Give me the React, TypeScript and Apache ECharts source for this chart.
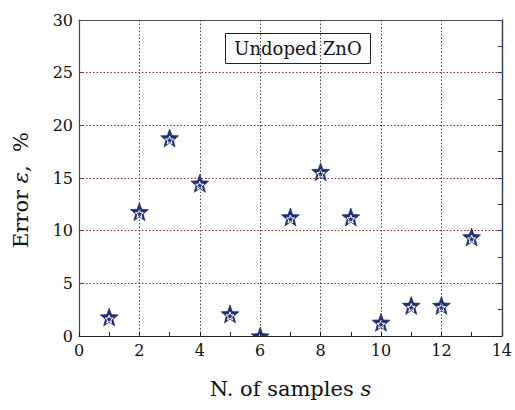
import React, { useEffect, useRef } from "react";
import * as echarts from "echarts";

const samples = [1, 2, 3, 4, 5, 6, 7, 8, 9, 10, 11, 12, 13];
const errors = [1.8, 11.8, 18.8, 14.5, 2.1, 0.0, 11.3, 15.6, 11.3, 1.3, 2.9, 2.9, 9.4];
const xTicks = [0, 2, 4, 6, 8, 10, 12, 14];
const yTicks = [0, 5, 10, 15, 20, 25, 30];
const legendLabel = "Undoped ZnO";

function starPath(outer: number, inner: number): string {
  const pts: string[] = [];
  for (let i = 0; i < 10; i++) {
    const r = i % 2 === 0 ? outer : inner;
    const a = -Math.PI / 2 + (i * Math.PI) / 5;
    pts.push(`${(r * Math.cos(a)).toFixed(3)} ${(r * Math.sin(a)).toFixed(3)}`);
  }
  return "path://M" + pts.join(" L") + " Z";
}

export default function App() {
  const ref = useRef<HTMLDivElement>(null);
  useEffect(() => {
    if (!ref.current) return;
    const chart = echarts.init(ref.current, null, { renderer: "svg" });
    const font = "DejaVu Serif";
    const data = samples.map((s, i) => [s, errors[i]]);
    const star = starPath(10, 4.2);
    const gridLeft = 79;
    const gridRight = 12;
    const gridTop = 20;
    const gridBottom = 74;
    chart.setOption({
      animation: false,
      backgroundColor: "#ffffff",
      textStyle: { fontFamily: font },
      grid: { left: gridLeft, right: gridRight, top: gridTop, bottom: gridBottom, containLabel: false },
      xAxis: [
        {
          type: "value",
          position: "bottom",
          z: 10,
          min: xTicks[0],
          max: xTicks[xTicks.length - 1],
          interval: 2,
          name: "{n|N. of samples }{i|s}",
          nameLocation: "middle",
          nameGap: 42,
          nameTextStyle: {
            rich: {
              n: { fontFamily: font, fontSize: 21, color: "#111" },
              i: { fontFamily: font, fontSize: 21, fontStyle: "italic", color: "#111" },
            },
          },
          axisLine: { show: true, onZero: false, lineStyle: { color: "#222", width: 1.2 } },
          axisTick: { show: true, inside: true, length: 4, lineStyle: { color: "#222" } },
          minorTick: { show: true, splitNumber: 2, length: 4, lineStyle: { color: "#222" } },
          axisLabel: { fontFamily: font, fontSize: 16, color: "#111", margin: 6 },
          splitLine: { show: true, lineStyle: { type: [1.5, 2], color: "#444", width: 1 } },
        },
        {
          type: "value",
          position: "top",
          min: xTicks[0],
          max: xTicks[xTicks.length - 1],
          interval: 2,
          axisLine: { show: true, onZero: false, lineStyle: { color: "#555", width: 1.2 } },
          axisTick: { show: false },
          axisLabel: { show: false },
          splitLine: { show: false },
        },
      ],
      yAxis: [
        {
          type: "value",
          position: "left",
          min: yTicks[0],
          max: yTicks[yTicks.length - 1],
          interval: 5,
          name: "{n|Error }{i|ε}{n|,  %}",
          nameLocation: "middle",
          nameGap: 48,
          nameRotate: 90,
          nameTextStyle: {
            padding: [0, 24, 0, 0],
            rich: {
              n: { fontFamily: font, fontSize: 21, color: "#111" },
              i: { fontFamily: font, fontSize: 21, fontStyle: "italic", color: "#111" },
            },
          },
          axisLine: { show: true, onZero: false, lineStyle: { color: "#444", width: 1.2 } },
          axisTick: { show: true, inside: true, length: 4, lineStyle: { color: "#444" } },
          axisLabel: { fontFamily: font, fontSize: 16, color: "#111", margin: 6 },
          splitLine: { show: true, lineStyle: { type: [1.5, 2], color: "#8b2a2a", width: 1 } },
        },
        {
          type: "value",
          position: "right",
          min: yTicks[0],
          max: yTicks[yTicks.length - 1],
          interval: 2.5,
          axisLine: { show: true, onZero: false, lineStyle: { color: "#1f2d6e", width: 1.4 } },
          axisTick: { show: true, inside: true, length: 4, lineStyle: { color: "#1f2d6e" } },
          axisLabel: { show: false },
          splitLine: { show: false },
        },
      ],
      graphic: [
        {
          type: "rect",
          left: gridLeft + 1,
          bottom: gridBottom - 12,
          z: 8,
          silent: true,
          shape: { width: 515 - gridLeft - gridRight - 2, height: 11.4 },
          style: { fill: "#ffffff" },
        },
        {
          type: "group",
          left: 225,
          top: 33,
          z: 100,
          children: [
            {
              type: "rect",
              shape: { x: 0, y: 0, width: 145, height: 30 },
              style: { fill: "#fff", stroke: "#222", lineWidth: 1 },
            },
            {
              type: "text",
              x: 72.5,
              y: 15,
              style: {
                text: legendLabel,
                fontFamily: font,
                fontSize: 18,
                fill: "#111",
                align: "center",
                verticalAlign: "middle",
              },
            },
          ],
        },
      ],
      series: [
        {
          type: "scatter",
          data,
          symbol: star,
          symbolSize: 18,
          clip: true,
          itemStyle: { color: "#1f2f7f", borderColor: "#15205a", borderWidth: 0.6, opacity: 1 },
          z: 5,
        },
        {
          type: "scatter",
          data,
          symbol: star,
          symbolSize: 8,
          symbolOffset: [0, 2],
          clip: true,
          itemStyle: { color: "rgba(0,0,0,0)", borderColor: "#ffffff", borderWidth: 1, opacity: 1 },
          silent: true,
          z: 6,
        },
      ],
    });
    return () => chart.dispose();
  }, []);
  return <div ref={ref} style={{ width: 515, height: 410, position: "absolute", left: 0, top: 0 }} />;
}
